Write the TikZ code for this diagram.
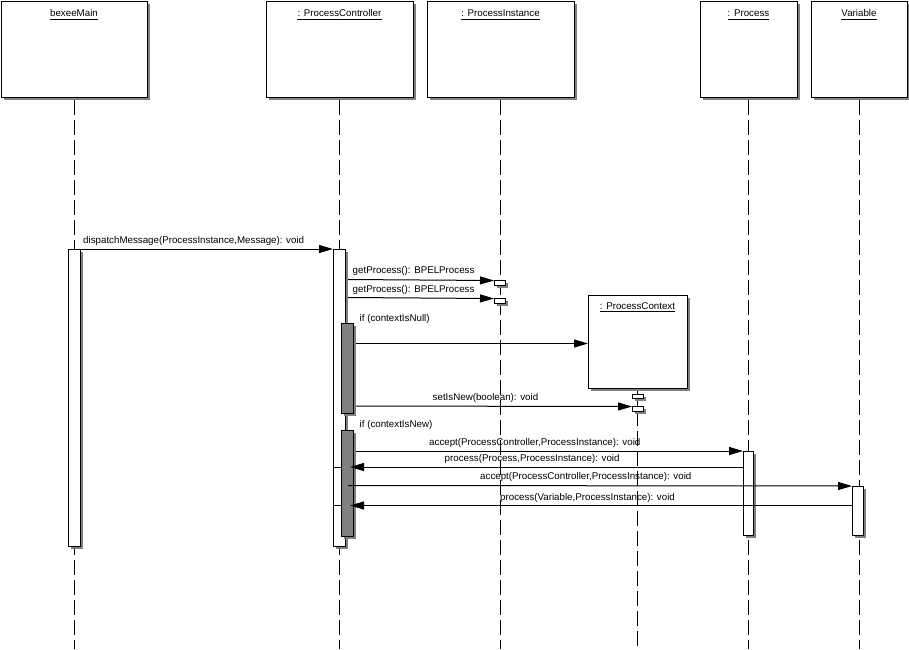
\documentclass[tikz,border=0pt]{standalone}
\usepackage{fontspec}
\setmainfont{Liberation Sans}
\usetikzlibrary{arrows.meta,shadows}
\begin{document}
\begin{tikzpicture}[x=1pt,y=-1pt,
  font=\fontsize{9.75}{11}\selectfont,
  shadowed/.style={drop shadow={shadow xshift=2.5pt, shadow yshift=-2.5pt, fill=black!50, opacity=1}},
  box/.style={draw, fill=white, line width=1pt, anchor=north west, inner sep=0pt, outer sep=0pt, shadowed},
  headbox/.style={box, minimum height=96pt},
  act/.style={box, minimum width=12pt},
  gact/.style={act, fill=black!50},
  smallact/.style={box, minimum width=11.5pt, minimum height=4.5pt},
  lifeline/.style={line width=1pt, dash pattern=on 15pt off 5pt, dash phase=17pt},
  msg/.style={line width=1pt, -{Triangle[length=14pt,width=8pt]}},
  plain/.style={line width=1pt},
  lbl/.style={anchor=base west, inner sep=0pt},
  title/.style={anchor=base, inner sep=0pt},
  uline/.style={line width=1pt}
]
\useasboundingbox (0,0) rectangle (909,649);
\coordinate (bot) at (0,649);

% heads
\node[headbox, minimum width=146pt] (hMain) at (1,1) {};
\node[headbox, minimum width=147pt] (hPC) at (266,1) {};
\node[headbox, minimum width=147pt] (hPI) at (427,1) {};
\node[headbox, minimum width=97pt] (hP) at (700,1) {};
\node[headbox, minimum width=96pt] (hV) at (811,1) {};
\node[box, minimum width=99pt, minimum height=93pt] (ctx) at (588,295) {};

% titles
\node[title] (tMain) at (hMain.north |- 0,16.5) {bexeeMain};
\node[title] (tPC) at (hPC.north |- 0,16.5) {: ProcessController};
\node[title] (tPI) at (hPI.north |- 0,16.5) {: ProcessInstance};
\node[title] (tP) at (hP.north |- 0,16.5) {: Process};
\node[title] (tV) at (hV.north |- 0,16.5) {Variable};
\node[title] (tCtx) at (ctx.north |- 0,309) {: ProcessContext};
\foreach \t in {tMain,tPC,tPI,tP,tV,tCtx}
  \draw[uline] ([yshift=-2.5pt]\t.base west) -- ([yshift=-2.5pt]\t.base east);

% lifelines
\foreach \n in {hMain,hPC,hPI,hP,hV,ctx}
  \draw[lifeline] (\n.south) -- (\n.south |- bot);

% activations
\node[act, minimum height=297pt] (mainA) at (68,249) {};
\node[act, minimum height=297pt] (pcA) at (333,249) {};
\node[gact, minimum height=90pt] (g1) at (341,323) {};
\node[gact, minimum height=106pt] (g2) at (341,430) {};
\node[smallact] (pi1) at (494,280.5) {};
\node[smallact] (pi2) at (494,298.5) {};
\node[smallact, minimum width=11pt] (cx1) at (632,394) {};
\node[smallact, minimum width=11pt] (cx2) at (632,406.5) {};
\node[act, minimum width=10.5pt, minimum height=84pt] (pA) at (743,451) {};
\node[act, minimum width=11pt, minimum height=49pt] (vA) at (852,486) {};

% messages
\draw[msg] (mainA.east |- 0,249) -- (pcA.west |- 0,249);
\draw[msg] ([xshift=3pt]pcA.east |- 0,279.5) -- (pi1.north west);
\draw[msg] ([xshift=3pt]pcA.east |- 0,297.5) -- (pi2.north west);
\draw[msg] ([xshift=3pt]g1.east |- 0,343.5) -- (ctx.west |- 0,343.5);
\draw[msg] ([xshift=3pt]g1.east |- 0,406) -- (cx2.north west);
\draw[msg] ([xshift=3pt]g2.east |- 0,451) -- (pA.north west);
\draw[msg] (pA.west |- 0,467) -- ([xshift=-3pt]g2.east |- 0,467);
\draw[plain] (pcA.west |- 0,467) -- (g2.west |- 0,467);
\draw[msg] ([xshift=3pt]pcA.east |- 0,485.5) -- (vA.north west);
\draw[msg] (vA.west |- 0,505.5) -- ([xshift=-3pt]g2.east |- 0,505.5);
\draw[plain] (pcA.west |- 0,505.5) -- (g2.west |- 0,505.5);

% labels
\node[lbl] (l1) at (83,243) {dispatchMessage(ProcessInstance,Message): void};
\node[lbl] (l2) at (352.5,273.5) {getProcess(): BPELProcess};
\node[lbl] (l3) at (352.5,292) {getProcess(): BPELProcess};
\node[lbl] (l4) at (359.5,321.5) {if (contextIsNull)};
\node[lbl] (l5) at (432.5,400) {setIsNew(boolean): void};
\node[lbl] (l6) at (359.5,427) {if (contextIsNew)};
\node[lbl] (l7) at (429,445) {accept(ProcessController,ProcessInstance): void};
\node[lbl] (l8) at (444.5,461.5) {process(Process,ProcessInstance): void};
\node[lbl] (l9) at (480,479.5) {accept(ProcessController,ProcessInstance): void};
\node[lbl] (l10) at (500,500) {process(Variable,ProcessInstance): void};
\end{tikzpicture}
\end{document}
